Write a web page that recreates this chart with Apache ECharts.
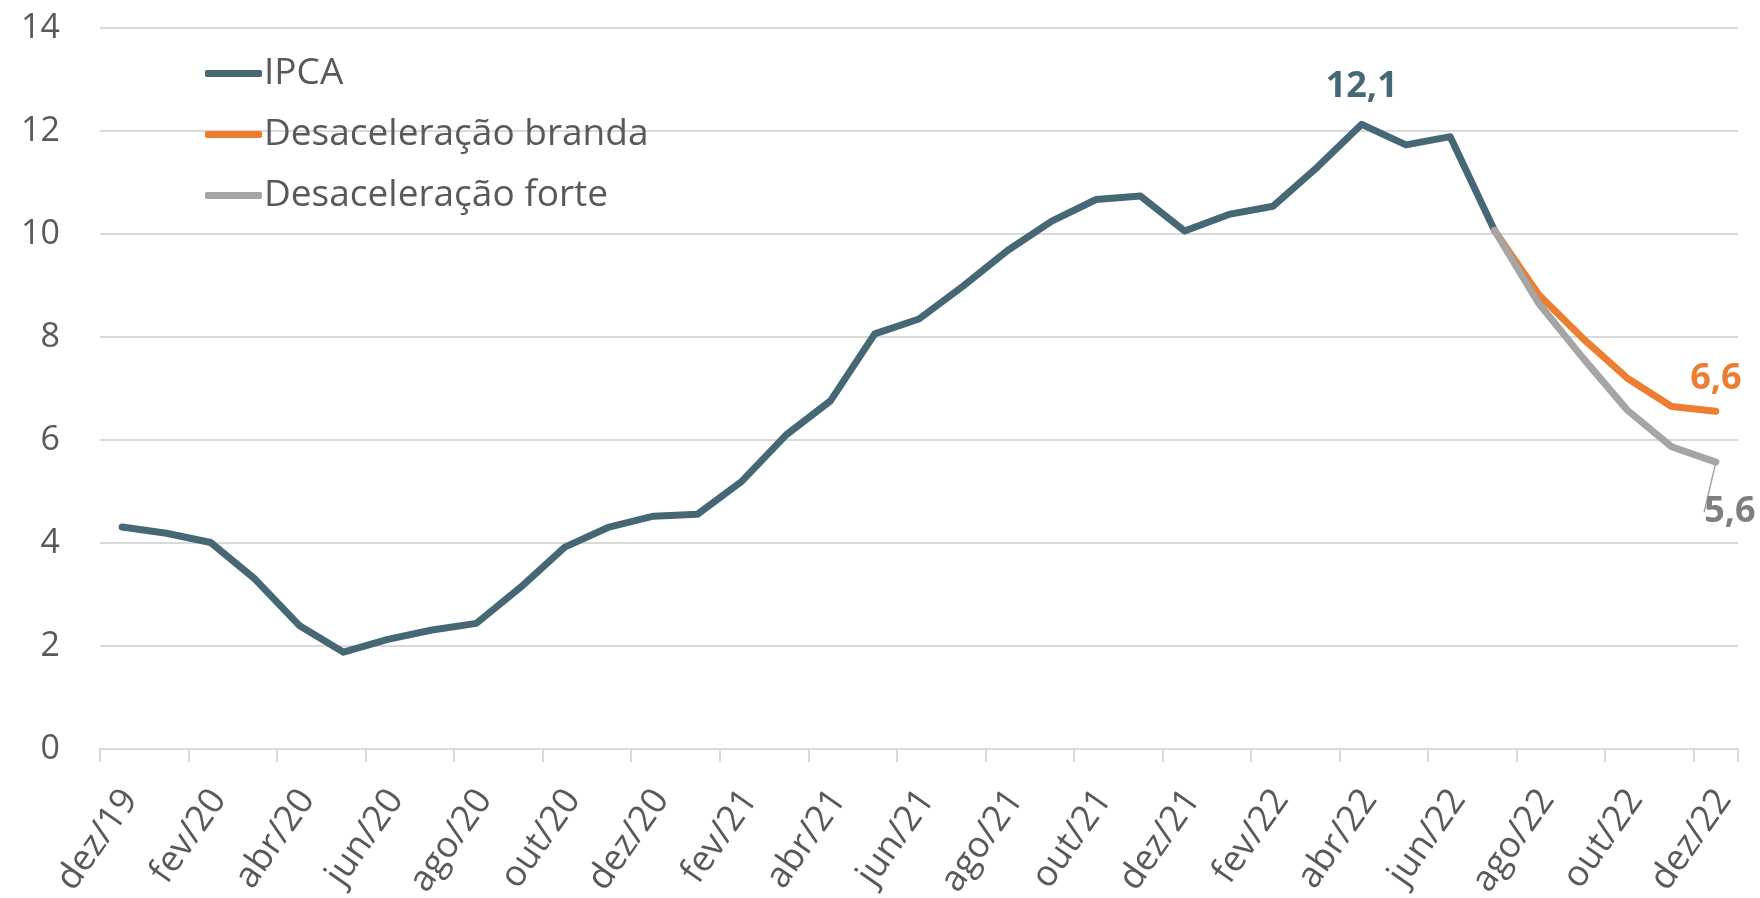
<!DOCTYPE html>
<html>
<head>
<meta charset="utf-8">
<script src="https://cdn.jsdelivr.net/npm/echarts@6/dist/echarts.min.js"></script>
<style>
  html, body { margin: 0; padding: 0; background: #fff; }
  #chart { width: 1760px; height: 898px; }
</style>
</head>
<body>
<div id="chart"></div>
<script>
  // meses de dez/19 a dez/22
  const months = [
    'dez/19', 'jan/20', 'fev/20', 'mar/20', 'abr/20', 'mai/20', 'jun/20', 'jul/20', 'ago/20', 'set/20', 'out/20', 'nov/20',
    'dez/20', 'jan/21', 'fev/21', 'mar/21', 'abr/21', 'mai/21', 'jun/21', 'jul/21', 'ago/21', 'set/21', 'out/21', 'nov/21',
    'dez/21', 'jan/22', 'fev/22', 'mar/22', 'abr/22', 'mai/22', 'jun/22', 'jul/22', 'ago/22', 'set/22', 'out/22', 'nov/22',
    'dez/22'
  ];
  const ipca = [
    4.31, 4.19, 4.01, 3.30, 2.40, 1.88, 2.13, 2.31, 2.44, 3.14, 3.92, 4.31,
    4.52, 4.56, 5.20, 6.10, 6.76, 8.06, 8.35, 8.99, 9.68, 10.25, 10.67, 10.74,
    10.06, 10.38, 10.54, 11.30, 12.13, 11.73, 11.89, 10.07,
    null, null, null, null, null
  ];
  // cenários a partir de jul/22
  const branda = Array(31).fill(null).concat([10.07, 8.82, 7.97, 7.20, 6.65, 6.56]);
  const forte = Array(31).fill(null).concat([10.07, 8.65, 7.59, 6.58, 5.87, 5.57]);

  const font = 'Open Sans';
  const textColor = '#595959';

  function withLabel(arr, idx, label) {
    return arr.map((v, i) => (i === idx ? { value: v, label: label } : v));
  }
  const fmt = (p) => p.value.toFixed(1).replace('.', ',');

  const chart = echarts.init(document.getElementById('chart'));
  const option = {
    backgroundColor: '#fff',
    animation: false,
    textStyle: { fontFamily: font },
    grid: { left: 100, right: 22, top: 28, bottom: 149, containLabel: false, outerBoundsMode: 'none' },
    legend: {
      orient: 'vertical',
      left: 200,
      top: 50,
      itemGap: 24,
      icon: 'roundRect',
      itemWidth: 57,
      itemHeight: 7,
      textStyle: { color: textColor, fontSize: 37, fontFamily: font, padding: [0, 0, 0, -3] },
      data: ['IPCA', 'Desaceleração branda', 'Desaceleração forte']
    },
    xAxis: {
      type: 'category',
      data: months,
      boundaryGap: true,
      axisLine: { lineStyle: { color: '#d9d9d9', width: 2 } },
      axisTick: { show: true, interval: 1, length: 13, lineStyle: { color: '#d9d9d9', width: 2 } },
      axisLabel: {
        interval: 1,
        rotate: 55,
        margin: 56,
        padding: [0, -14, 0, 0],
        color: textColor,
        fontSize: 36,
        fontFamily: font
      },
      splitLine: { show: false }
    },
    yAxis: {
      type: 'value',
      min: 0,
      max: 14,
      interval: 2,
      axisLine: { show: false },
      axisTick: { show: false },
      axisLabel: { color: textColor, fontSize: 34, fontFamily: font, margin: 40 },
      splitLine: { lineStyle: { color: '#d9d9d9', width: 2 } }
    },
    series: [
      {
        name: 'IPCA',
        type: 'line',
        symbol: 'circle',
        symbolSize: 0,
        lineStyle: { color: '#466875', width: 7, cap: 'round', join: 'round' },
        itemStyle: { color: '#466875' },
        data: withLabel(ipca, 28, {
          show: true, position: 'top', distance: 20, formatter: fmt,
          color: '#466875', fontSize: 36, fontWeight: 'bold', fontFamily: font
        })
      },
      {
        name: 'Desaceleração branda',
        type: 'line',
        symbol: 'circle',
        symbolSize: 0,
        lineStyle: { color: '#ED7D31', width: 7, cap: 'round', join: 'round' },
        itemStyle: { color: '#ED7D31' },
        data: withLabel(branda, 36, {
          show: true, position: 'top', distance: 14, formatter: fmt,
          color: '#ED7D31', fontSize: 36, fontWeight: 'bold', fontFamily: font
        })
      },
      {
        name: 'Desaceleração forte',
        type: 'line',
        symbol: 'circle',
        symbolSize: 0,
        lineStyle: { color: '#A5A5A5', width: 7, cap: 'round', join: 'round' },
        itemStyle: { color: '#A5A5A5' },
        labelLine: { show: true, lineStyle: { color: '#A5A5A5', width: 1.5 } },
        labelLayout: { dx: 14, dy: 24 },
        data: withLabel(forte, 36, {
          show: true, position: 'bottom', distance: 8, formatter: fmt,
          color: '#7f7f7f', fontSize: 36, fontWeight: 'bold', fontFamily: font
        })
      }
    ]
  };
  chart.setOption(option);
  window.addEventListener('resize', function () {
    chart.resize();
  });
</script>
</body>
</html>
